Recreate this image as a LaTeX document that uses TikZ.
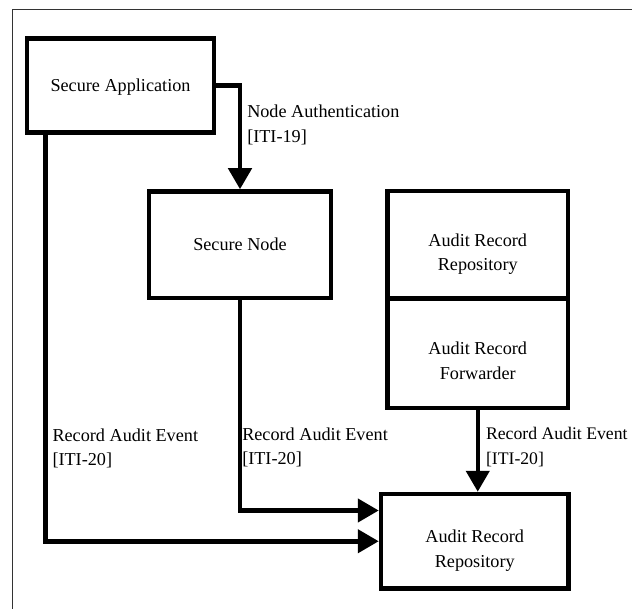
\documentclass[tikz,border=0pt]{standalone}
\usepackage{fontspec}
\setmainfont{Liberation Serif}
\usepackage{tikz}
\usetikzlibrary{positioning}
\usetikzlibrary{arrows.meta}
\tikzstyle{block} = [rectangle, draw, line width=4.5pt, align=center, inner sep=0pt, font=\fontsize{18.2}{24.5}\selectfont]
\tikzstyle{twoline} = [text height=56pt, text depth=4pt]
\tikzstyle{line} = [draw, line width=4.5pt, -{Triangle[length=21pt,width=23pt]}]
\tikzstyle{note} = [align=left, anchor=west, inner sep=5pt, font=\fontsize{18.2}{24.5}\selectfont]
\tikzstyle{frame} = [draw, line width=0.8pt, black!80]

\begin{document}
\begin{tikzpicture}[x=1pt, y=-1pt]
			\useasboundingbox (0,0) rectangle (632,609);
			\path [frame] (632,9.5) -| (12,609);
			\node [block, text depth=0pt, minimum width=187pt, minimum height=94pt] (app) at (120.5,85.5) {Secure Application};
			\node [block, below of=app, node distance=159.25pt, xshift=119.5pt, minimum width=182pt, minimum height=106.5pt] (snode) {Secure Node};
			\node [block, twoline, right of=snode, node distance=237.75pt, minimum width=180.5pt, minimum height=107.3pt] (repo) {Audit Record\\Repository};
			\node [block, twoline, below of=repo, node distance=108.5pt, minimum width=180.5pt, minimum height=109.7pt] (fwd) {Audit Record\\Forwarder};
			\node [block, twoline, below of=fwd, node distance=188pt, xshift=-3pt, minimum width=187.5pt, minimum height=94.5pt] (arr) {Audit Record\\Repository};
			\path [line] (app.east) -| node [note, pos=0.69] (auth) {Node Authentication\\{[ITI-19]}} (snode.north);
			\path [line] (snode.south) |- node [note, pos=0.35, xshift=-5pt] (evnode) {Record Audit Event\\{[ITI-20]}} ([yshift=30.75pt]arr.west);
			\path [line] ([xshift=20.5pt]app.south west) |- node [note, pos=0.386] (evapp) {Record Audit Event\\{[ITI-20]}} (arr.west);
			\path [line] (fwd.south) -- node [note, pos=0.453, xshift=1pt, font=\fontsize{17.7}{24.5}\selectfont] (evfwd) {Record Audit Event\\{[ITI-20]}} (fwd.south |- arr.north);
\end{tikzpicture}
\end{document}
